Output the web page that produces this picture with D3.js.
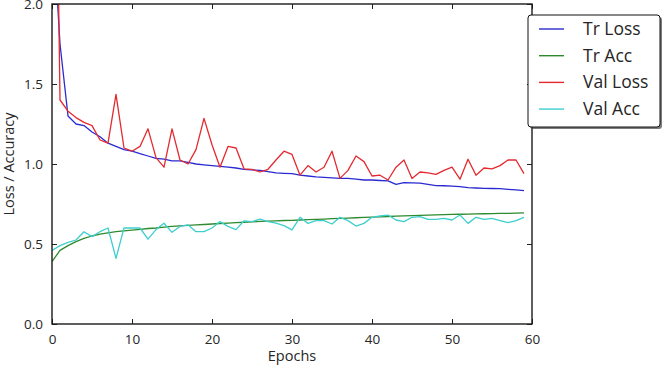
<!DOCTYPE html>
<html><head><meta charset="utf-8">
<script src="https://cdn.jsdelivr.net/npm/d3@7/dist/d3.min.js"></script>
<style>
html,body{margin:0;padding:0;background:#fff;}
svg{display:block;}
text{font-family:"Open Sans",sans-serif;fill:#262626;}
</style></head>
<body>
<svg id="chart" width="665" height="366"></svg>
<script>
const epochs = d3.range(0, 60);
const trLoss = [2.6,1.75,1.30,1.25,1.24,1.20,1.17,1.13,1.11,1.09,
  1.08,1.065,1.05,1.035,1.03,1.02,1.02,1.01,1.0,0.995,
  0.99,0.985,0.98,0.975,0.967,0.963,0.96,0.952,0.945,0.942,
  0.94,0.93,0.925,0.92,0.917,0.913,0.91,0.91,0.905,0.90,
  0.90,0.897,0.895,0.873,0.883,0.882,0.88,0.872,0.865,0.864,
  0.862,0.858,0.852,0.85,0.848,0.847,0.846,0.842,0.838,0.833];
const trAcc = [0.39,0.46,0.49,0.515,0.535,0.55,0.562,0.57,0.577,0.582,
  0.587,0.592,0.597,0.60,0.605,0.61,0.613,0.616,0.619,0.622,
  0.625,0.628,0.631,0.633,0.636,0.638,0.641,0.643,0.645,0.647,
  0.648,0.65,0.652,0.654,0.656,0.658,0.66,0.662,0.664,0.666,
  0.668,0.67,0.672,0.674,0.676,0.677,0.679,0.68,0.682,0.684,
  0.685,0.686,0.687,0.688,0.689,0.69,0.691,0.692,0.693,0.694];
const valLoss = [5.0,1.40,1.33,1.29,1.26,1.24,1.15,1.13,1.435,1.10,
  1.08,1.11,1.22,1.04,0.98,1.22,1.025,1.00,1.09,1.285,
  1.12,0.98,1.11,1.10,0.97,0.967,0.95,0.967,1.025,1.08,
  1.06,0.93,0.99,0.95,0.98,1.08,0.91,0.96,1.05,1.015,
  0.925,0.93,0.90,0.98,1.025,0.91,0.95,0.945,0.935,0.96,
  0.98,0.905,1.03,0.93,0.975,0.97,0.99,1.025,1.025,0.94];
const valAcc = [0.46,0.49,0.51,0.525,0.577,0.546,0.577,0.60,0.41,0.60,
  0.60,0.60,0.53,0.59,0.63,0.573,0.61,0.62,0.577,0.577,
  0.60,0.64,0.61,0.59,0.645,0.64,0.655,0.64,0.63,0.615,
  0.588,0.667,0.629,0.646,0.646,0.625,0.667,0.646,0.612,0.629,
  0.667,0.675,0.681,0.65,0.64,0.667,0.671,0.654,0.654,0.66,
  0.65,0.681,0.629,0.667,0.654,0.66,0.646,0.633,0.646,0.667];
const seriesNames = ["Tr Loss","Tr Acc","Val Loss","Val Acc"];
const seriesColors = ["#2a2ad2","#2e8a2e","#e42a30","#3ecece"];
const xTicks = [0,10,20,30,40,50,60];
const yTicks = [0.0,0.5,1.0,1.5,2.0];
const xLabel = "Epochs", yLabel = "Loss / Accuracy";

const series = [trLoss, trAcc, valLoss, valAcc];
const svg = d3.select("#chart");
const L = 52, R = 532, T = 4, B = 324;
const x = d3.scaleLinear().domain([0,60]).range([L,R]);
const y = d3.scaleLinear().domain([0,2]).range([B,T]);

svg.append("defs").append("clipPath").attr("id","clip")
  .append("rect").attr("x",L).attr("y",T).attr("width",R-L).attr("height",B-T);

const line = d3.line().x((d,i)=>x(epochs[i])).y(d=>y(d));
const g = svg.append("g").attr("clip-path","url(#clip)");
series.forEach((s,k)=>{
  g.append("path").datum(s).attr("d",line).attr("fill","none")
   .attr("stroke",seriesColors[k]).attr("stroke-width",1.3)
   .attr("stroke-linejoin","round");
});

const fmt = d3.format(".1f");
const xb = svg.append("g").attr("transform",`translate(0,${B})`)
  .call(d3.axisBottom(x).tickValues(xTicks).tickSize(-5).tickPadding(10).tickFormat(d3.format("d")));
const xt = svg.append("g").attr("transform",`translate(0,${T})`)
  .call(d3.axisTop(x).tickValues(xTicks).tickSize(-5).tickFormat(""));
const yl = svg.append("g").attr("transform",`translate(${L},0)`)
  .call(d3.axisLeft(y).tickValues(yTicks).tickSize(-5).tickPadding(9).tickFormat(fmt));
const yr = svg.append("g").attr("transform",`translate(${R},0)`)
  .call(d3.axisRight(y).tickValues(yTicks).tickSize(-5).tickFormat(""));
[xb,xt,yl,yr].forEach(a=>{
  a.select(".domain").remove();
  a.selectAll(".tick line").attr("stroke","#222").attr("stroke-width",1);
  a.selectAll(".tick text").attr("font-family","Open Sans").attr("font-size",13.5).attr("fill","#2a2a2a");
});
svg.append("rect").attr("x",L).attr("y",T).attr("width",R-L).attr("height",B-T)
  .attr("fill","none").attr("stroke","#1a1a1a").attr("stroke-width",1.4);

svg.append("text").attr("x",(L+R)/2).attr("y",361).attr("text-anchor","middle")
  .attr("font-size",14.5).text(xLabel);
svg.append("text").attr("transform",`translate(14,${(T+B)/2}) rotate(-90)`)
  .attr("text-anchor","middle").attr("font-size",14.5).text(yLabel);

const lg = svg.append("g");
lg.append("rect").attr("x",530).attr("y",17).attr("width",132).attr("height",112)
  .attr("rx",3).attr("fill","#444").attr("opacity",0.7);
lg.append("rect").attr("x",528).attr("y",15).attr("width",132).attr("height",112)
  .attr("rx",3).attr("fill","#fff").attr("stroke","#111").attr("stroke-width",1);
seriesNames.forEach((n,k)=>{
  const cy = 29 + k*26.7;
  lg.append("line").attr("x1",539).attr("x2",564).attr("y1",cy).attr("y2",cy)
    .attr("stroke",seriesColors[k]).attr("stroke-width",1.4);
  lg.append("text").attr("x",583).attr("y",cy+6).attr("font-size",17.5).text(n);
});
</script>
</body></html>
